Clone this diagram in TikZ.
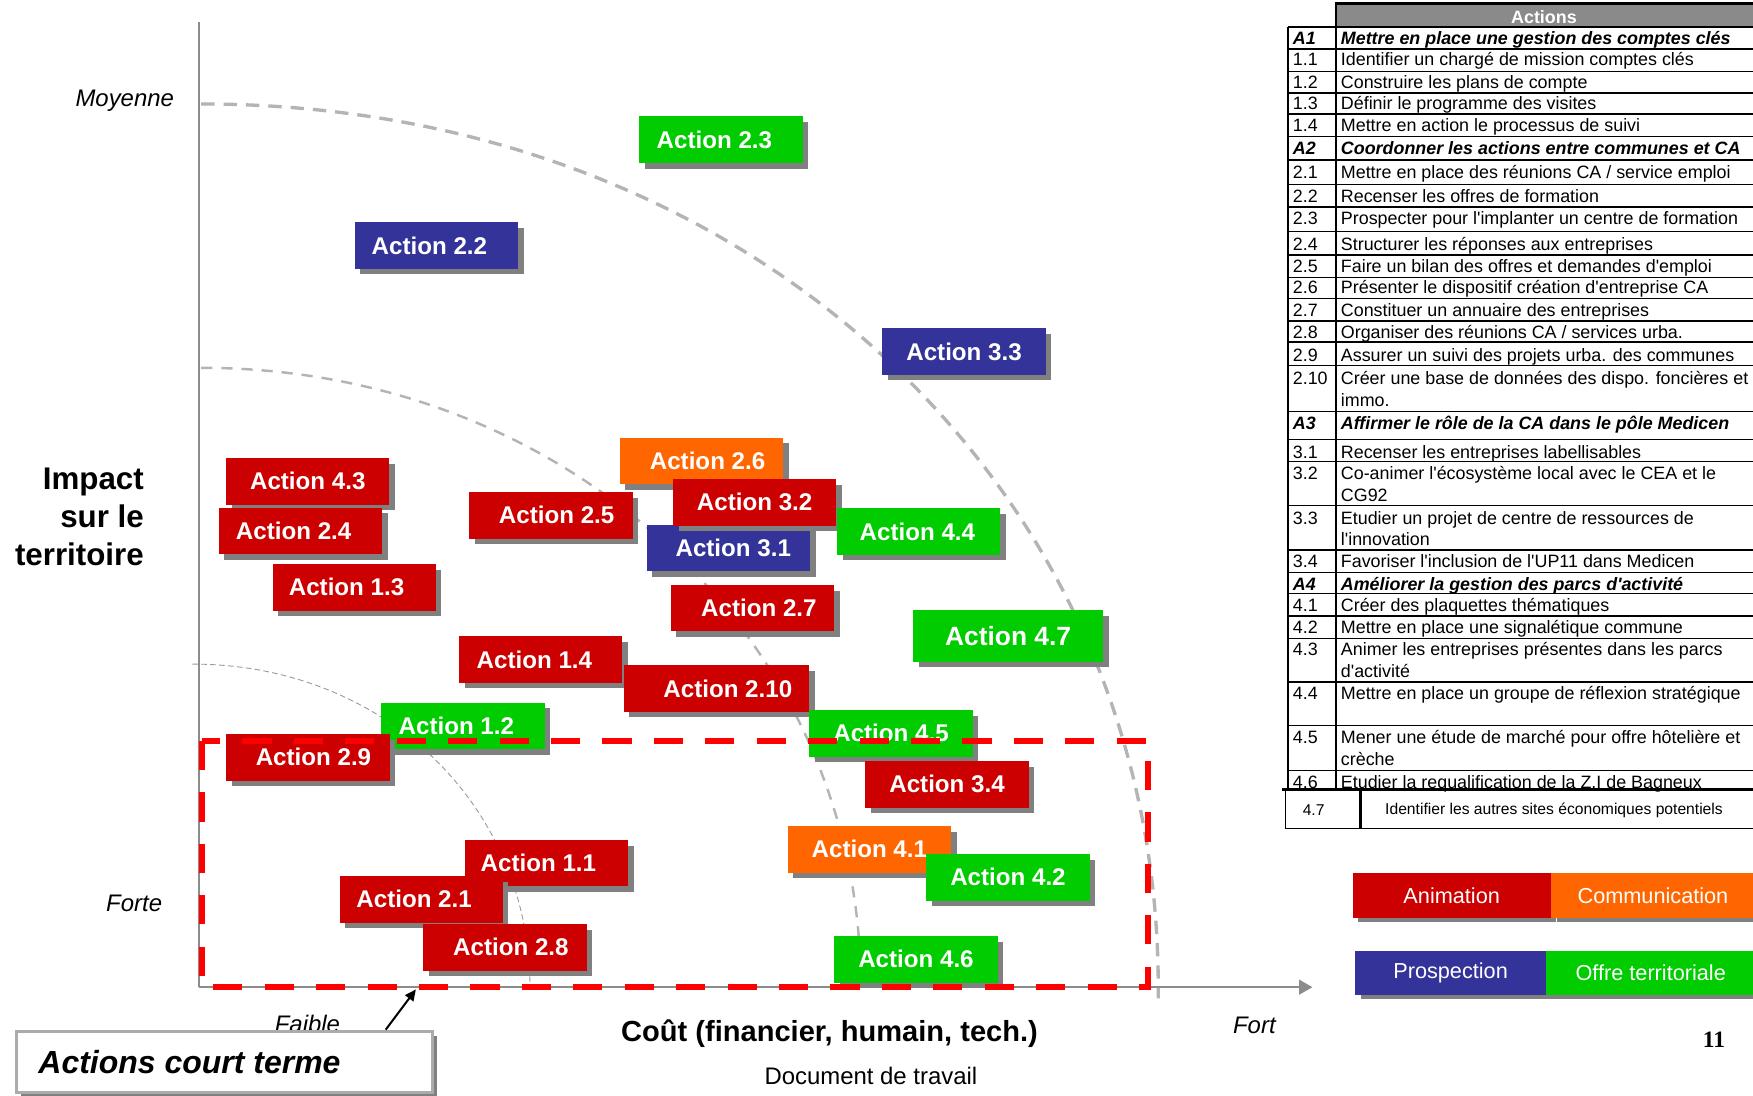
\documentclass[tikz,border=0pt]{standalone}
\usepackage{fontspec}
\setmainfont{Liberation Sans}[Ligatures=TeXOff]
\newfontfamily\pagefont{Liberation Serif}
\usetikzlibrary{shadows,arrows.meta}

\definecolor{cred}{HTML}{CC0000}
\definecolor{corange}{HTML}{FF6600}
\definecolor{cblue}{HTML}{333399}
\definecolor{cgreen}{HTML}{00CC00}
\definecolor{shgray}{HTML}{808080}
\definecolor{axisgray}{HTML}{8C8C8C}
\definecolor{arcgray}{HTML}{B4B4B4}
\definecolor{dashred}{HTML}{FF0000}
\definecolor{hdrgray}{HTML}{8A8A8A}
\definecolor{ctborder}{HTML}{ABABAB}

\tikzset{
 abox/.style={inner sep=0pt, drop shadow={shadow xshift=2.5pt, shadow yshift=-2.5pt, fill=shgray, opacity=1}},
 atext/.style={text=white, inner sep=0pt, font=\fontsize{10.8}{13}\selectfont\bfseries},
 axisline/.style={draw=axisgray, line width=1.1pt},
 arcouter/.style={draw=arcgray, line width=1.5pt, dash pattern=on 6pt off 4pt},
 arcmid/.style={draw=arcgray, line width=1.1pt, dash pattern=on 5pt off 4pt},
 arcinner/.style={draw=arcgray!85!black, line width=0.4pt, dash pattern=on 2.5pt off 1.5pt},
 shortterm/.style={draw=dashred, line width=2.75pt, dash pattern=on 13pt off 10pt},
 itlabel/.style={inner sep=0pt, font=\fontsize{10.7}{12}\selectfont\itshape},
 tnum/.style={anchor=west, inner sep=0pt, yshift=-0.8pt, text height=6pt, text depth=1.7pt, font=\fontsize{8}{10}\selectfont},
 tnumb/.style={tnum, font=\fontsize{8}{10}\selectfont\bfseries\itshape},
 tgrid/.style={line width=0.65pt},
 lgbox/.style={inner sep=0pt, text=white, font=\fontsize{9.7}{11}\selectfont, drop shadow={shadow xshift=2.5pt, shadow yshift=-2pt, fill=shgray, opacity=1}},
}

\newcommand\actionbox[8]{%
 \node[abox, fill=#2, minimum width=#5, minimum height=#6] (#1) at (#3,#4) {};
 \node[atext] (#1t) at ([xshift=#7]#1.center) {#8};}
\newcommand\actstd[6]{\actionbox{#1}{#2}{#3}{#4}{73pt}{20.8pt}{#5}{Action #6}}
\newcommand\tabrow[4]{\node[tnum] (#1n) at (1156,#2) {#3}; \node[tnum] (#1t) at (1199,#2) {#4};}
\newcommand\tabrowb[4]{\node[tnumb] (#1n) at (1156,#2) {#3}; \node[tnumb] (#1t) at (1199,#2) {#4};}
\newcommand\tabcont[3]{\node[tnum] (#1) at (1199,#2) {#3};}

\begin{document}
\begin{tikzpicture}[x=0.5pt, y=-0.5pt]
\useasboundingbox (0,0) rectangle (1568,980);

% arcs
\draw[arcouter] (180,93) .. controls (667,93) and (1036,433) .. (1036,883) -- (1036,893);
\draw[arcmid] (180,329) .. controls (510,329) and (770,573) .. (770,883);
\draw[arcinner] (172,594) .. controls (344,594) and (474,721) .. (474,883);

% axes
\coordinate (O) at (178,883);
\coordinate (ytop) at (178,20);
\coordinate (xend) at (1174,883);
\draw[axisline] (ytop) -- (O);
\draw[axisline, -{Triangle[length=6pt, width=6.5pt]}] (O) -- (xend);

% axis labels
\node[itlabel, anchor=east] (moy) at (156,90) {Moyenne};
\node[itlabel] (forte) at (120,808) {Forte};
\node[itlabel] (faible) at (275,916) {Faible};
\node[itlabel] (fort) at (1122,917) {Fort};
\node[inner sep=0pt, anchor=east, align=right, font=\fontsize{14}{17}\selectfont\bfseries] (imp) at (129,462) {Impact\\sur le\\territoire};
\node[inner sep=0pt, font=\fontsize{13}{15}\selectfont\bfseries] (cout) at (742,925) {Coût (financier, humain, tech.)};
\node[inner sep=0pt, font=\fontsize{10.7}{12}\selectfont] (doc) at (779,962) {Document de travail};
\node[inner sep=0pt, font=\pagefont\fontsize{10.5}{12}\selectfont\bfseries] (pg) at (1533,930) {11};

% action boxes
\actstd{a23}{cgreen}{645}{125}{-3pt}{2.3}
\actstd{a22}{cblue}{390.3}{219.5}{-3.1pt}{2.2}
\actstd{a33}{cblue}{862.3}{314.5}{0pt}{3.3}
\actstd{a26}{corange}{627.3}{412.3}{2.8pt}{2.6}
\actstd{a43}{cred}{275.3}{430.5}{0pt}{4.3}
\actstd{a24}{cred}{268.7}{474.9}{-3pt}{2.4}
\actstd{a13}{cred}{316.8}{525.3}{-3.4pt}{1.3}
\actstd{a25}{cred}{492.9}{460.9}{2.5pt}{2.5}
\actstd{a31}{cblue}{651.5}{490.3}{2.2pt}{3.1}
\actstd{a32}{cred}{675}{449.3}{0pt}{3.2}
\actstd{a44}{cgreen}{821.6}{475.4}{-0.5pt}{4.4}
\actstd{a27}{cred}{673}{544}{2.9pt}{2.7}
\actionbox{a47}{cgreen}{901.7}{568.7}{85pt}{23.1pt}{0pt}{\fontsize{11.8}{14}\selectfont Action 4.7}
\actstd{a14}{cred}{483.6}{589.8}{-2.8pt}{1.4}
\actionbox{a210}{cred}{641}{615.8}{83pt}{20.8pt}{5pt}{Action 2.10}
\actstd{a12}{cgreen}{414.2}{649.5}{-3pt}{1.2}
\actstd{a29}{cred}{275.4}{677.4}{2.5pt}{2.9}
\actstd{a45}{cgreen}{797}{655.9}{0pt}{4.5}
\actstd{a34}{cred}{847.1}{701.5}{0pt}{3.4}
\actstd{a41}{corange}{777.6}{759.7}{0pt}{4.1}
\actstd{a42}{cgreen}{901.6}{784.7}{0pt}{4.2}
\actstd{a11}{cred}{489}{772.1}{-3.7pt}{1.1}
\actstd{a21}{cred}{376.8}{804.4}{-3.2pt}{2.1}
\actstd{a28}{cred}{451.6}{847.3}{2.7pt}{2.8}
\actstd{a46}{cgreen}{819.3}{858.1}{0pt}{4.6}

% short-term zone
\coordinate (rtl) at (180.5,662.8);
\coordinate (rbr) at (1027,882.5);
\draw[shortterm] (rtl) rectangle (rbr);

% short-term label box and arrow
\node[draw=ctborder, line width=1.4pt, fill=white, minimum width=186pt, minimum height=27pt, inner sep=0pt,
      drop shadow={shadow xshift=2pt, shadow yshift=-2pt, fill=shgray, opacity=1}] (ct) at (201,950) {};
\node[inner sep=0pt, anchor=west, font=\fontsize{14.3}{16}\selectfont\bfseries\itshape] (ctt) at (34,950) {Actions court terme};
\coordinate (arrfrom) at (345,921);
\coordinate (arrto) at (372,885);
\draw[line width=0.9pt, -{Triangle[length=5pt, width=4.5pt]}] (arrfrom) -- (arrto);

% table
\fill[hdrgray] (1195,4) rectangle (1568,23);
\node[inner sep=0pt, text=white, font=\fontsize{8}{10}\selectfont\bfseries] (hdr) at (1381,15) {Actions};
\foreach \yy in {24,44,64,83,102,122,143,165,185,207,228,248,267,287,306,327,368,393,413,452,492,512,531,551,571,610,649,689}
  \draw[tgrid] (1152,\yy) -- (1568,\yy);
\draw[line width=0.8pt] (1152,24) -- (1152,706);
\draw[line width=1.2pt] (1195,2) -- (1195,706);
\draw[line width=1.6pt] (1194,3) -- (1568,3);

\tabrowb{A1}{34}{A1}{Mettre en place une gestion des comptes clés}
\tabrow{r11}{53}{1.1}{Identifier un chargé de mission comptes clés}
\tabrow{r12}{73}{1.2}{Construire les plans de compte}
\tabrow{r13}{92}{1.3}{Définir le programme des visites}
\tabrow{r14}{112}{1.4}{Mettre en action le processus de suivi}
\tabrowb{A2}{132}{A2}{Coordonner les actions entre communes et CA}
\tabrow{r21}{154}{2.1}{Mettre en place des réunions CA / service emploi}
\tabrow{r22}{175}{2.2}{Recenser les offres de formation}
\tabrow{r23}{195}{2.3}{Prospecter pour l'implanter un centre de formation}
\tabrow{r24}{218}{2.4}{Structurer les réponses aux entreprises}
\tabrow{r25}{238}{2.5}{Faire un bilan des offres et demandes d'emploi}
\tabrow{r26}{257}{2.6}{Présenter le dispositif création d'entreprise CA}
\tabrow{r27}{277}{2.7}{Constituer un annuaire des entreprises}
\tabrow{r28}{297}{2.8}{Organiser des réunions CA / services urba.}
\tabrow{r29}{317}{2.9}{Assurer un suivi des projets urba. des communes}
\tabrow{r210}{338}{2.10}{Créer une base de données des dispo. foncières et}
\tabcont{r210b}{358}{immo.}
\tabrowb{A3}{378}{A3}{Affirmer le rôle de la CA dans le pôle Medicen}
\tabrow{r31}{404}{3.1}{Recenser les entreprises labellisables}
\tabrow{r32}{423}{3.2}{Co-animer l'écosystème local avec le CEA et le}
\tabcont{r32b}{443}{CG92}
\tabrow{r33}{463}{3.3}{Etudier un projet de centre de ressources de}
\tabcont{r33b}{482}{l'innovation}
\tabrow{r34}{502}{3.4}{Favoriser l'inclusion de l'UP11 dans Medicen}
\tabrowb{A4}{522}{A4}{Améliorer la gestion des parcs d'activité}
\tabrow{r41}{541}{4.1}{Créer des plaquettes thématiques}
\tabrow{r42}{561}{4.2}{Mettre en place une signalétique commune}
\tabrow{r43}{580}{4.3}{Animer les entreprises présentes dans les parcs}
\tabcont{r43b}{600}{d'activité}
\tabrow{r44}{620}{4.4}{Mettre en place un groupe de réflexion stratégique}
\tabrow{r45}{659}{4.5}{Mener une étude de marché pour offre hôtelière et}
\tabcont{r45b}{679}{crèche}
\tabrow{r46}{699}{4.6}{Etudier la requalification de la Z.I de Bagneux}
\draw[line width=1.6pt] (1147,706) -- (1568,706);
\draw[line width=0.6pt] (1150,706) -- (1150,741) -- (1568,741);
\draw[line width=1.2pt] (1217,706) -- (1217,741);
\node[inner sep=0pt, font=\fontsize{7}{9}\selectfont] (n47) at (1175,725) {4.7};
\node[inner sep=0pt, font=\fontsize{7}{9}\selectfont] (t47) at (1390,725) {Identifier les autres sites économiques potentiels};

% legend
\node[lgbox, fill=cred, minimum width=88.5pt, minimum height=20pt] (lanim) at (1298.5,801) {Animation};
\node[lgbox, fill=corange, minimum width=91pt, minimum height=20pt] (lcomm) at (1478.5,801) {Communication};
\node[lgbox, fill=cblue, minimum width=85.5pt, minimum height=19.5pt] (lprosp) at (1297.5,870.5) {Prospection};
\node[lgbox, fill=cgreen, minimum width=93.5pt, minimum height=19.5pt] (loffre) at (1476.5,870.5) {Offre territoriale};
\end{tikzpicture}
\end{document}
